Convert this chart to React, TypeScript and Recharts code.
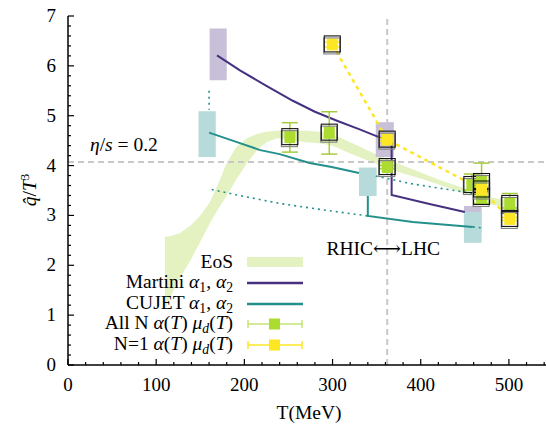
import React from 'react';
import {
  ComposedChart,
  Line,
  Area,
  XAxis,
  YAxis,
  ReferenceLine,
  ReferenceArea,
  ErrorBar,
  Legend,
  Label,
} from 'recharts';

const FONT = '"Liberation Serif", "Times New Roman", "DejaVu Serif", serif';

// EoS band (lower / upper edge)
const eosT = [110, 116, 127, 139, 150, 161, 170, 180, 191, 203, 215, 225, 237, 252, 270, 285, 300, 320, 340, 360, 380, 400, 420, 440, 460, 480, 500];
const eosLow = [1.1, 1.37, 1.75, 2.1, 2.47, 2.85, 3.12, 3.4, 3.72, 4.05, 4.32, 4.47, 4.55, 4.52, 4.47, 4.45, 4.4, 4.24, 4.1, 3.96, 3.84, 3.74, 3.62, 3.5, 3.38, 3.22, 3.15];
const eosHigh = [2.57, 2.58, 2.65, 2.8, 3.0, 3.27, 3.62, 4.05, 4.37, 4.55, 4.64, 4.68, 4.7, 4.71, 4.7, 4.68, 4.63, 4.47, 4.3, 4.14, 4.0, 3.86, 3.72, 3.6, 3.48, 3.36, 3.3];

// Martini alpha1, alpha2
const martiniT = [169, 195, 225, 255, 280, 305, 330, 354, 367, 367, 410, 450];
const martiniQ = [6.21, 5.91, 5.6, 5.3, 5.08, 4.9, 4.73, 4.56, 4.48, 3.41, 3.23, 3.07];

// CUJET alpha1, alpha2 (gap inside the box)
const cujetT = [160, 190, 218, 240, 274, 299, 330, 340, 340, 340, 391, 459];
const cujetQ = [4.66, 4.48, 4.31, 4.23, 4.05, 3.97, 3.85, null, 3.39, 2.99, 2.87, 2.77];

// CUJET dotted pieces
const cujetDotAT = [160, 160];
const cujetDotAQ = [5.5, 5.12];
const cujetDotBT = [163, 200, 240, 290, 340];
const cujetDotBQ = [3.52, 3.38, 3.24, 3.11, 2.99];
const cujetDotCT = [349, 388, 420, 460];
const cujetDotCQ = [3.79, 3.64, 3.55, 3.44];
const cujetDotDT = [459, 470];
const cujetDotDQ = [2.77, 2.75];

// boxes
const martiniBoxT1 = [160.6, 349, 449];
const martiniBoxT2 = [180, 369.5, 469];
const martiniBoxLo = [5.71, 4.17, 2.65];
const martiniBoxHi = [6.75, 4.87, 3.19];
const cujetBoxT1 = [148, 330, 449];
const cujetBoxT2 = [167.6, 350, 469];
const cujetBoxLo = [4.17, 3.39, 2.45];
const cujetBoxHi = [5.09, 3.96, 3.07];

// All N alpha(T) mu_d(T)
const allNT = [251.6, 296.3, 362, 458, 469, 469, 501];
const allNQ = [4.57, 4.66, 3.97, 3.61, 3.67, 3.37, 3.23];
const allNErrLo = [0.3, 0.43, 0.03, 0.1, 0.1, 0.13, 0.08];
const allNErrHi = [0.29, 0.42, 0.03, 0.22, 0.38, 0.08, 0.21];

// N=1 alpha(T) mu_d(T)
const n1T = [299.7, 362, 469, 501];
const n1Q = [6.43, 4.52, 3.52, 2.93];
const n1ErrLo = [0.05, 0.03, 0.03, 0.03];
const n1ErrHi = [0.05, 0.03, 0.03, 0.03];

const xTicks = [0, 20, 40, 60, 80, 100, 120, 140, 160, 180, 200, 220, 240, 260, 280, 300, 320, 340, 360, 380, 400, 420, 440, 460, 480, 500, 520, 540];
const yTicks = [0, 0.2, 0.4, 0.6, 0.8, 1, 1.2, 1.4, 1.6, 1.8, 2, 2.2, 2.4, 2.6, 2.8, 3, 3.2, 3.4, 3.6, 3.8, 4, 4.2, 4.4, 4.6, 4.8, 5, 5.2, 5.4, 5.6, 5.8, 6, 6.2, 6.4, 6.6, 6.8, 7];

const C_EOS = '#e3f2c0';
const C_MARTINI = '#46307f';
const C_CUJET = '#23908c';
const C_MBOX = '#c8c0d9';
const C_CBOX = '#b7dbdb';
const C_ALLN = '#addc30';
const C_ALLN_ERR = '#a4cc3a';
const C_N1 = '#fde725';

const pts = (ts: number[], qs: (number | null)[]) => ts.map((T, i) => ({ T, q: qs[i] }));
const eosData = eosT.map((T, i) => ({ T, band: [eosLow[i], eosHigh[i]] }));
const allNData = allNT.map((T, i) => ({ T, q: allNQ[i], err: [allNErrLo[i], allNErrHi[i]] }));
const n1Data = n1T.map((T, i) => ({ T, q: n1Q[i], err: [n1ErrLo[i], n1ErrHi[i]] }));

const isMajor = (v: number) => Math.abs(v - Math.round(v / 100) * 100) < 1e-6;
const isMajorY = (v: number) => Math.abs(v - Math.round(v)) < 1e-6;

const BottomTick = ({ x, y, payload }: any) => {
  const major = isMajor(payload.value);
  return (
    <g>
      <line x1={x} x2={x} y1={y} y2={y - (major ? 6 : 3)} stroke="#000" strokeWidth={1.2} />
      {major && (
        <text x={x} y={y + 26} textAnchor="middle" fontFamily={FONT} fontSize={19} fill="#000">
          {payload.value}
        </text>
      )}
    </g>
  );
};

const TopTick = ({ x, y, payload }: any) => {
  const major = isMajor(payload.value);
  return <line x1={x} x2={x} y1={y} y2={y + (major ? 6 : 3)} stroke="#000" strokeWidth={1.2} />;
};

const LeftTick = ({ x, y, payload }: any) => {
  const major = isMajorY(payload.value);
  return (
    <g>
      <line x1={x} x2={x + (major ? 6 : 3)} y1={y} y2={y} stroke="#000" strokeWidth={1.2} />
      {major && (
        <text x={x - 12} y={y + 6} textAnchor="end" fontFamily={FONT} fontSize={19} fill="#000">
          {Math.round(payload.value)}
        </text>
      )}
    </g>
  );
};

const makeMarker = (fill: string) => (props: any) => {
  const { cx, cy, index } = props;
  if (cx == null || cy == null) return <g key={index} />;
  return (
    <g key={index}>
      <rect x={cx - 5.5} y={cy - 6} width={11} height={12} fill={fill} />
      <rect x={cx - 8.5} y={cy - 6.5} width={16} height={16} fill="none" stroke="#808080" strokeWidth={1.1} />
      <rect x={cx - 8} y={cy - 8.5} width={16} height={16} fill="none" stroke="#111" strokeWidth={1.1} />
    </g>
  );
};

const Italic = ({ children }: any) => <i style={{ fontStyle: 'italic' }}>{children}</i>;
const Sub = ({ children }: any) => (
  <span style={{ fontSize: '0.7em', position: 'relative', top: '0.3em' }}>{children}</span>
);

const LegendSymbol = ({ kind }: { kind: string }) => {
  if (kind === 'eos') return <svg width={56} height={20}><rect x={0} y={5} width={56} height={10} fill={C_EOS} /></svg>;
  if (kind === 'martini') return <svg width={56} height={20}><line x1={0} x2={56} y1={10} y2={10} stroke={C_MARTINI} strokeWidth={2.5} /></svg>;
  if (kind === 'cujet') return <svg width={56} height={20}><line x1={0} x2={56} y1={10} y2={10} stroke={C_CUJET} strokeWidth={2.5} /></svg>;
  const line = kind === 'alln' ? '#c4e373' : C_N1;
  const fill = kind === 'alln' ? C_ALLN : C_N1;
  return (
    <svg width={56} height={20}>
      <line x1={1} x2={55} y1={10} y2={10} stroke={line} strokeWidth={1.5} />
      <line x1={1} x2={1} y1={6} y2={14} stroke={line} strokeWidth={1.5} />
      <line x1={55} x2={55} y1={6} y2={14} stroke={line} strokeWidth={1.5} />
      <rect x={22} y={4.5} width={11} height={11} fill={fill} />
    </svg>
  );
};

const legendRows = [
  { kind: 'eos', label: <>EoS</> },
  { kind: 'martini', label: <>Martini <Italic>α</Italic><Sub>1</Sub>, <Italic>α</Italic><Sub>2</Sub></> },
  { kind: 'cujet', label: <>CUJET <Italic>α</Italic><Sub>1</Sub>, <Italic>α</Italic><Sub>2</Sub></> },
  { kind: 'alln', label: <>All N <Italic>α</Italic>(<Italic>T</Italic>) <Italic>μ</Italic><Sub><Italic>d</Italic></Sub>(<Italic>T</Italic>)</> },
  { kind: 'n1', label: <>N=1 <Italic>α</Italic>(<Italic>T</Italic>) <Italic>μ</Italic><Sub><Italic>d</Italic></Sub>(<Italic>T</Italic>)</> },
];

const LegendBox = () => (
  <div style={{ fontFamily: FONT, fontSize: 19.5, color: '#000' }}>
    {legendRows.map((r) => (
      <div key={r.kind} style={{ display: 'flex', alignItems: 'center', height: 20.8 }}>
        <span style={{ width: 175, textAlign: 'right', lineHeight: '18px', whiteSpace: 'nowrap' }}>{r.label}</span>
        <span style={{ marginLeft: 14, display: 'flex' }}>
          <LegendSymbol kind={r.kind} />
        </span>
      </div>
    ))}
  </div>
);

const EtaLabel = ({ viewBox }: any) => (
  <text x={viewBox.x + 22} y={viewBox.y - 11} fontFamily={FONT} fontSize={19.5} fill="#000">
    <tspan fontStyle="italic">η</tspan>/<tspan fontStyle="italic">s</tspan> = 0.2
  </text>
);

const RhicLabel = ({ viewBox }: any) => (
  <text x={viewBox.x - 4} y={viewBox.y + 239} textAnchor="middle" fontFamily={FONT} fontSize={19.5} fill="#000">
    RHIC⟷LHC
  </text>
);

const YTitle = ({ viewBox }: any) => {
  const cx = viewBox.x + 28;
  const cy = 190;
  return (
    <text x={cx} y={cy} transform={`rotate(-90 ${cx} ${cy})`} textAnchor="middle" fontFamily={FONT} fontSize={19.5} fill="#000">
      <tspan fontStyle="italic">q̂</tspan>/<tspan fontStyle="italic">T</tspan>
      <tspan dy={-7} fontSize={13}>3</tspan>
    </text>
  );
};

const XTitle = ({ viewBox }: any) => (
  <text x={viewBox.x + 241} y={viewBox.y + 54} textAnchor="middle" fontFamily={FONT} fontSize={19.5} fill="#000">
    T(MeV)
  </text>
);

export default function App() {
  return (
    <div style={{ position: 'absolute', left: 0, top: 0, width: 546, height: 425, overflow: 'hidden', background: '#fff' }}>
      <ComposedChart width={570} height={425} margin={{ top: 16, right: 17, bottom: 0, left: 8 }}>
        <XAxis
          xAxisId={0}
          dataKey="T"
          type="number"
          domain={[0, 550]}
          ticks={xTicks}
          interval={0}
          tickSize={0}
          tickMargin={0}
          tick={<BottomTick />}
          tickLine={false}
          axisLine={{ stroke: '#000', strokeWidth: 1.5 }}
          height={60}
          allowDataOverflow
        >
          <Label content={<XTitle />} />
        </XAxis>
        <XAxis
          xAxisId="top"
          orientation="top"
          dataKey="T"
          type="number"
          domain={[0, 550]}
          ticks={xTicks}
          interval={0}
          tickSize={0}
          tickMargin={0}
          tick={<TopTick />}
          tickLine={false}
          axisLine={{ stroke: '#000', strokeWidth: 1.5 }}
          height={0}
          allowDataOverflow
        />
        <YAxis
          type="number"
          domain={[0, 7]}
          ticks={yTicks}
          interval={0}
          tickSize={0}
          tickMargin={0}
          tick={<LeftTick />}
          tickLine={false}
          axisLine={{ stroke: '#000', strokeWidth: 1.5 }}
          width={60}
          allowDataOverflow
        >
          <Label content={<YTitle />} />
        </YAxis>

        <ReferenceLine y={4.07} stroke="#c8c8c8" strokeWidth={2} strokeDasharray="6 4">
          <Label content={<EtaLabel />} />
        </ReferenceLine>
        <ReferenceLine x={362} stroke="#c8c8c8" strokeWidth={2} strokeDasharray="6 4">
          <Label content={<RhicLabel />} />
        </ReferenceLine>

        <Area data={eosData} dataKey="band" type="linear" stroke="none" fill={C_EOS} fillOpacity={1} isAnimationActive={false} activeDot={false} />

        {martiniBoxT1.map((t, i) => (
          <ReferenceArea key={'mb' + i} x1={t} x2={martiniBoxT2[i]} y1={martiniBoxLo[i]} y2={martiniBoxHi[i]} fill={C_MBOX} fillOpacity={1} stroke="none" />
        ))}

        <Line data={pts(martiniT, martiniQ)} dataKey="q" type="linear" stroke={C_MARTINI} strokeWidth={2} dot={false} activeDot={false} isAnimationActive={false} />

        {cujetBoxT1.map((t, i) => (
          <ReferenceArea key={'cb' + i} x1={t} x2={cujetBoxT2[i]} y1={cujetBoxLo[i]} y2={cujetBoxHi[i]} fill={C_CBOX} fillOpacity={1} stroke="none" />
        ))}

        <Line data={pts(cujetT, cujetQ)} dataKey="q" type="linear" stroke={C_CUJET} strokeWidth={2} dot={false} activeDot={false} connectNulls={false} isAnimationActive={false} />
        <Line data={pts(cujetDotAT, cujetDotAQ)} dataKey="q" type="linear" stroke={C_CUJET} strokeWidth={1.6} strokeDasharray="2 4" dot={false} activeDot={false} isAnimationActive={false} />
        <Line data={pts(cujetDotBT, cujetDotBQ)} dataKey="q" type="linear" stroke={C_CUJET} strokeWidth={1.6} strokeDasharray="2 4" dot={false} activeDot={false} isAnimationActive={false} />
        <Line data={pts(cujetDotCT, cujetDotCQ)} dataKey="q" type="linear" stroke={C_CUJET} strokeWidth={1.6} strokeDasharray="2 4" dot={false} activeDot={false} isAnimationActive={false} />
        <Line data={pts(cujetDotDT, cujetDotDQ)} dataKey="q" type="linear" stroke={C_CUJET} strokeWidth={1.6} strokeDasharray="2 4" dot={false} activeDot={false} isAnimationActive={false} />

        <Line data={allNData} dataKey="q" type="linear" stroke="none" dot={makeMarker(C_ALLN)} activeDot={false} isAnimationActive={false}>
          <ErrorBar dataKey="err" direction="y" width={8} stroke={C_ALLN_ERR} strokeWidth={1.5} />
        </Line>
        <Line data={n1Data} dataKey="q" type="linear" stroke={C_N1} strokeWidth={2.5} strokeDasharray="4 4" dot={makeMarker(C_N1)} activeDot={false} isAnimationActive={false}>
          <ErrorBar dataKey="err" direction="y" width={8} stroke={C_N1} strokeWidth={1.5} />
        </Line>

        <Legend
          layout="vertical"
          align="center"
          verticalAlign="middle"
          content={() => <LegendBox />}
          wrapperStyle={{ left: 58, top: 251.6, width: 260, height: 104 }}
        />
      </ComposedChart>
    </div>
  );
}
